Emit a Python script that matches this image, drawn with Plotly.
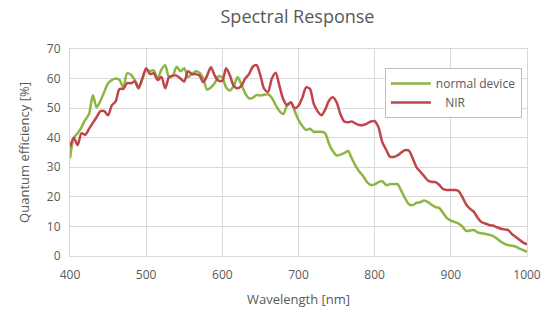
import plotly.graph_objects as go

wavelength = list(range(400, 1001, 5))

normal_device = [
    33, 40, 41.5, 43.5, 46, 48, 54.4, 50.3, 52.5, 55.5,
    58.4, 59.5, 60, 59.5, 57, 61.8, 61.3, 59.5, 57.2, 60,
    63, 62.5, 62.8, 60, 63, 64.5, 60.5, 61, 64, 62.5,
    63.5, 60.5, 61.5, 62.5, 62, 60, 56.3, 57, 58.5, 60.8,
    60.3, 57, 56, 57.5, 60.5, 58, 55, 53.3, 53.5, 54.4,
    54.3, 54.5, 54.7, 53.5, 51, 49, 48, 51, 51.8, 49,
    46, 44, 42.6, 43, 42, 42, 42, 41.5, 38, 35.5,
    34, 34.3, 34.8, 35.5, 33, 30.5, 28.5, 27, 25, 24,
    24.2, 25, 25.3, 24, 24.3, 24.3, 24.3, 22, 19.5, 17.5,
    17.2, 18, 18.2, 18.8, 18.2, 17.3, 16.5, 16.2, 14.5, 12.8,
    12, 11.5, 11, 10, 8.5, 8.6, 8.8, 8, 7.7, 7.5,
    7.2, 6.8, 6, 5, 4.2, 3.7, 3.5, 3.2, 2.5, 2,
    1.4,
]

nir = [
    36.8, 40, 37.5, 41.5, 41, 43, 45, 47, 49, 49,
    47.6, 51, 52.3, 56.5, 56.5, 58.5, 58.4, 59, 56.7, 60,
    63.5, 61.5, 61.8, 59.5, 60.5, 56.7, 60.5, 61, 61, 60,
    59, 62.5, 61.5, 61.5, 61, 58.8, 61, 63.8, 61, 59.3,
    59.3, 63.5, 61, 57.5, 56.7, 57.5, 60, 61.5, 64, 64.5,
    61, 56.5, 55.5, 60, 62, 57.5, 53, 51, 52, 50,
    50.8, 53.5, 57, 56.5, 51.5, 49, 47.6, 49.5, 52.5, 53.7,
    52, 48, 45.5, 45.2, 45.5, 44.8, 44.3, 44.3, 44.8, 45.5,
    45.6, 43.5, 38.5, 36, 33.6, 33.5, 34, 35, 35.8, 35.6,
    33, 30, 28.5, 27, 25.5, 25, 25, 24, 22.6, 22.3,
    22.3, 22.3, 22, 20, 17.5, 16, 15, 13, 11.5, 11,
    10.5, 10.3, 9.8, 9.3, 9, 8.8, 7.5, 6.5, 5.5, 4.5,
    3.9,
]

x_ticks = [400, 500, 600, 700, 800, 900, 1000]
y_ticks = [0, 10, 20, 30, 40, 50, 60, 70]

GRAY = "#595959"
GRID = "#d9d9d9"
FONT = "Open Sans"

fig = go.Figure()
fig.add_trace(go.Scatter(
    x=wavelength, y=normal_device, mode="lines", name="normal device",
    line=dict(color="#8db544", width=2.5, shape="spline", smoothing=0.8),
))
fig.add_trace(go.Scatter(
    x=wavelength, y=nir, mode="lines", name="   NIR",
    line=dict(color="#c0454a", width=2.5, shape="spline", smoothing=0.8),
))

fig.update_layout(
    width=554, height=331,
    margin=dict(l=70, r=27, t=49, b=75),
    paper_bgcolor="white", plot_bgcolor="white",
    font=dict(family=FONT, color=GRAY, size=12),
    title=dict(text="Spectral Response", x=0.537, xanchor="center",
               y=1 - 17 / 331, yanchor="middle", yref="container",
               font=dict(size=18, color=GRAY, family=FONT)),
    showlegend=True,
    legend=dict(x=0.689, y=0.908, xanchor="left", yanchor="top",
                bgcolor="white", bordercolor="#bfbfbf", borderwidth=1,
                font=dict(size=12, color=GRAY, family=FONT),
                tracegroupgap=2, itemwidth=40),
    xaxis=dict(range=[400, 1000], tickvals=x_ticks, showgrid=True,
               gridcolor=GRID, gridwidth=1, zeroline=False,
               showline=True, linecolor=GRID, mirror=True,
               ticks="", ticklabelstandoff=8,
               tickfont=dict(size=12, color=GRAY),
               title=dict(text="Wavelength [nm]", standoff=12,
                          font=dict(size=13, color=GRAY))),
    yaxis=dict(range=[0, 70], tickvals=y_ticks, showgrid=True,
               gridcolor=GRID, gridwidth=1, zeroline=False,
               showline=True, linecolor=GRID, mirror=True,
               ticks="", ticklabelstandoff=6,
               tickfont=dict(size=12, color=GRAY),
               title=dict(text="Quantum efficiency [%]", standoff=14,
                          font=dict(size=13, color=GRAY))),
)

fig.write_html("out.html")
